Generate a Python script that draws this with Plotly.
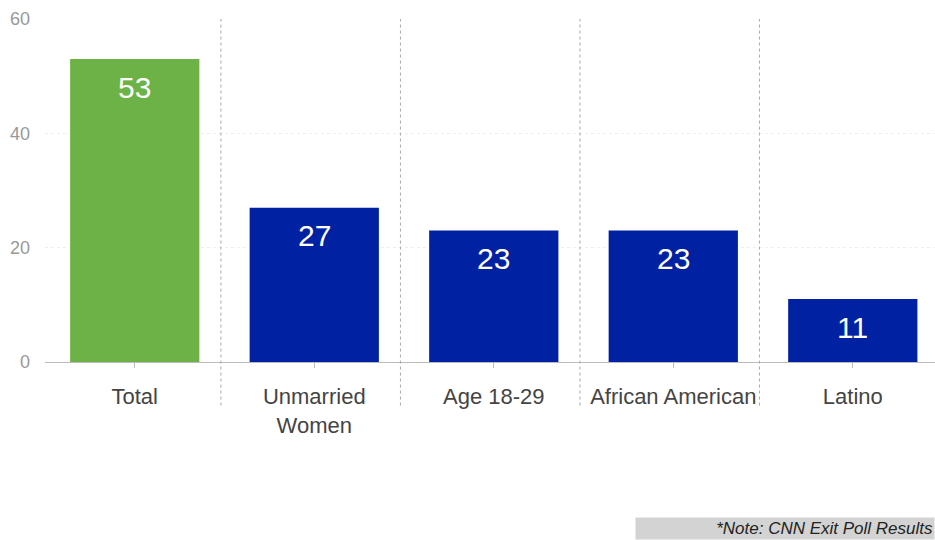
import plotly.graph_objects as go

categories = ["Total", "Unmarried<br>Women", "Age 18-29", "African American", "Latino"]
values = [53, 27, 23, 23, 11]
colors = ["#6cb246", "#0021a1", "#0021a1", "#0021a1", "#0021a1"]
note = "*Note: CNN Exit Poll Results"

FONT = "Liberation Sans, Arial, sans-serif"
x = list(range(len(categories)))

fig = go.Figure()
fig.add_trace(go.Bar(
    x=x, y=values, marker=dict(color=colors, line=dict(width=0)),
    width=0.72, hoverinfo="skip",
))

for i, v in enumerate(values):
    fig.add_annotation(x=i, y=v, text=str(v), showarrow=False, yshift=-28,
                       font=dict(family=FONT, size=30, color="white"),
                       xref="x", yref="y")

# vertical dotted separators between categories
for i in range(len(categories) - 1):
    fig.add_shape(type="line", xref="x", yref="paper",
                  x0=i + 0.48, x1=i + 0.48, y0=-0.127, y1=1.0,
                  line=dict(color="#a8a8a8", width=1, dash="dot"), layer="above")

fig.add_annotation(xref="paper", yref="paper", x=1.0, y=-0.52, xanchor="right", yanchor="bottom",
                   text="<i>" + note + "</i>", showarrow=False,
                   font=dict(family=FONT, size=17, color="#222"),
                   bgcolor="#d3d3d3", width=296, height=19, align="right", borderpad=1)

fig.update_layout(
    width=935, height=540,
    margin=dict(l=45, r=0, t=19, b=178),
    plot_bgcolor="white", paper_bgcolor="white",
    showlegend=False,
    font=dict(family=FONT),
    bargap=0.28,
    xaxis=dict(
        range=[-0.5, 4.458], tickmode="array", tickvals=x, ticktext=categories,
        tickson="boundaries", ticks="outside", ticklen=5, tickcolor="#bbbbbb",
        showgrid=False, zeroline=False,
        showline=True, linecolor="#bbbbbb", linewidth=1,
        tickfont=dict(family=FONT, size=22, color="#444444"),
        ticklabelstandoff=10,
        fixedrange=True,
    ),
    yaxis=dict(
        range=[0, 60], tickvals=[0, 20, 40, 60],
        showgrid=True, gridcolor="#eeeeee", griddash="dot", gridwidth=1,
        zeroline=False, showline=False,
        tickfont=dict(family=FONT, size=18, color="#999999"),
        ticklabelstandoff=14,
        fixedrange=True,
    ),
)

fig.write_html("out.html")
